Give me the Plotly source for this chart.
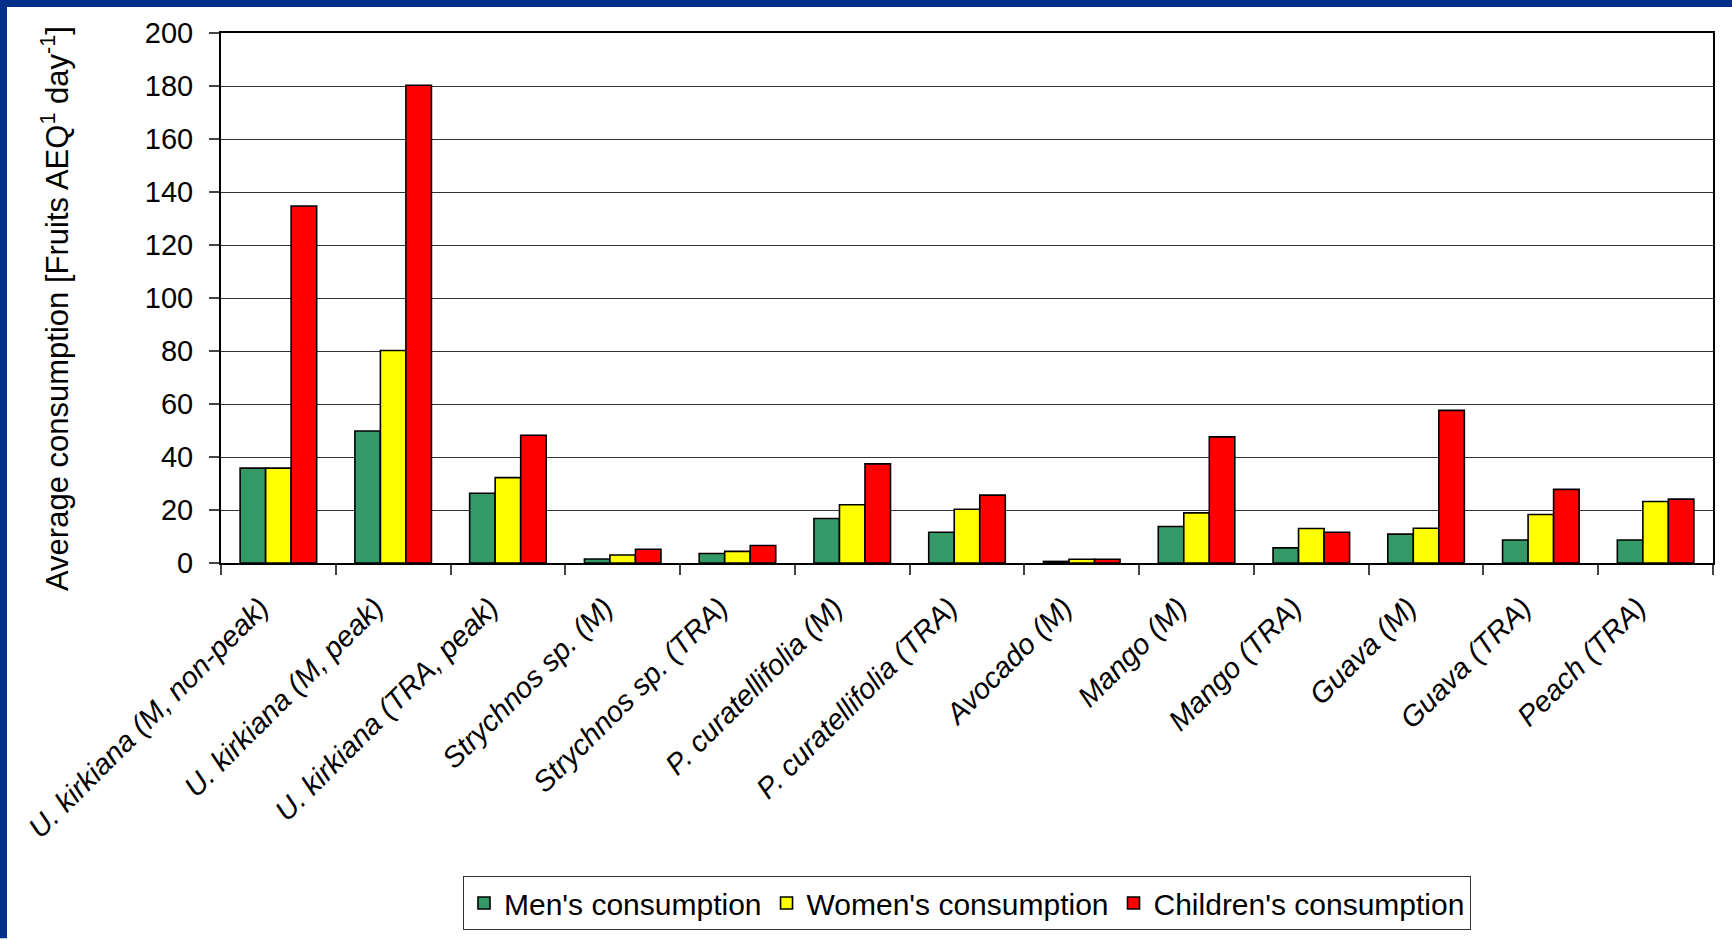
import plotly.graph_objects as go

categories = [
    "U. kirkiana (M, non-peak)",
    "U. kirkiana (M, peak)",
    "U. kirkiana (TRA, peak)",
    "Strychnos sp. (M)",
    "Strychnos sp. (TRA)",
    "P. curatellifolia (M)",
    "P. curatellifolia (TRA)",
    "Avocado (M)",
    "Mango (M)",
    "Mango (TRA)",
    "Guava (M)",
    "Guava (TRA)",
    "Peach (TRA)",
]

men = [35.8, 49.8, 26.3, 1.5, 3.6, 16.8, 11.6, 0.6, 13.8, 5.7, 10.9, 8.7, 8.7]
women = [35.8, 80.2, 32.2, 3.0, 4.4, 22.0, 20.3, 1.4, 18.9, 13.0, 13.1, 18.3, 23.2]
children = [134.7, 180.3, 48.2, 5.2, 6.6, 37.4, 25.6, 1.4, 47.6, 11.6, 57.6, 27.8, 24.1]

series = [
    ("Men's consumption", men, "#339966"),
    ("Women's consumption", women, "#FFFF00"),
    ("Children's consumption", children, "#FF0000"),
]

y_title = "Average consumption [Fruits AEQ<sup>1</sup> day<sup>-1</sup>]"

FONT = "Arial, 'Liberation Sans', sans-serif"

fig = go.Figure()
for name, values, color in series:
    fig.add_trace(go.Bar(
        x=categories,
        y=values,
        name=name,
        marker=dict(color=color, line=dict(color="black", width=1.6)),
    ))

# plot area occupies x 221..1713 px, y 33..564 px
L, R, T, B = 221, 19, 33, 376
W, H = 1732, 940
pw, ph = W - L - R, H - T - B

border = "#00308A"
shapes = [
    # dark blue frame strips along the top and left edges of the page
    dict(type="rect", xref="paper", yref="paper",
         x0=-L / pw, x1=(W - L) / pw,
         y0=(H - B - 7) / ph, y1=(H - B) / ph,
         fillcolor=border, line=dict(width=0), layer="above"),
    dict(type="rect", xref="paper", yref="paper",
         x0=-L / pw, x1=(7 - L) / pw,
         y0=-B / ph, y1=(H - B) / ph,
         fillcolor=border, line=dict(width=0), layer="above"),
]

fig.update_layout(
    width=W, height=H,
    margin=dict(l=L, r=R, t=T, b=B, pad=0),
    paper_bgcolor="white",
    plot_bgcolor="white",
    barmode="group",
    bargap=0.333,
    bargroupgap=0,
    font=dict(family=FONT, size=29, color="black"),
    showlegend=True,
    legend=dict(
        orientation="h",
        x=0.5, xanchor="center",
        y=(H - B - 876) / ph, yanchor="top",
        bordercolor="#333333", borderwidth=1,
        bgcolor="white",
        font=dict(family=FONT, size=30, color="black"),
        itemwidth=30,
        traceorder="normal",
    ),
    shapes=shapes,
    annotations=[
        # vertical axis title, slightly below the plot's mid-height
        dict(text=y_title, textangle=-90,
             xref="paper", yref="paper",
             x=(55 - L) / pw, y=0.5, yshift=-11,
             xanchor="center", yanchor="middle",
             showarrow=False,
             font=dict(family=FONT, size=31, color="black")),
    ],
)

fig.update_xaxes(
    type="category",
    tickangle=-45,
    tickfont=dict(family=FONT, size=29, style="italic", color="black"),
    ticks="outside", ticklen=10, tickcolor="#444444", tickwidth=1.5,
    tickson="boundaries",
    ticklabelstandoff=14,
    ticklabelshift=-18,
    showline=True, linecolor="black", linewidth=2, mirror=True,
    showgrid=False,
)

fig.update_yaxes(
    range=[0, 200],
    tick0=0, dtick=20,
    tickfont=dict(family=FONT, size=29, color="black"),
    ticks="outside", ticklen=10, tickcolor="#444444", tickwidth=1.5,
    ticklabelstandoff=10,
    showline=True, linecolor="black", linewidth=2, mirror=True,
    showgrid=True, gridcolor="#333333", gridwidth=1,
    zeroline=False,
)

fig.write_html("out.html")
